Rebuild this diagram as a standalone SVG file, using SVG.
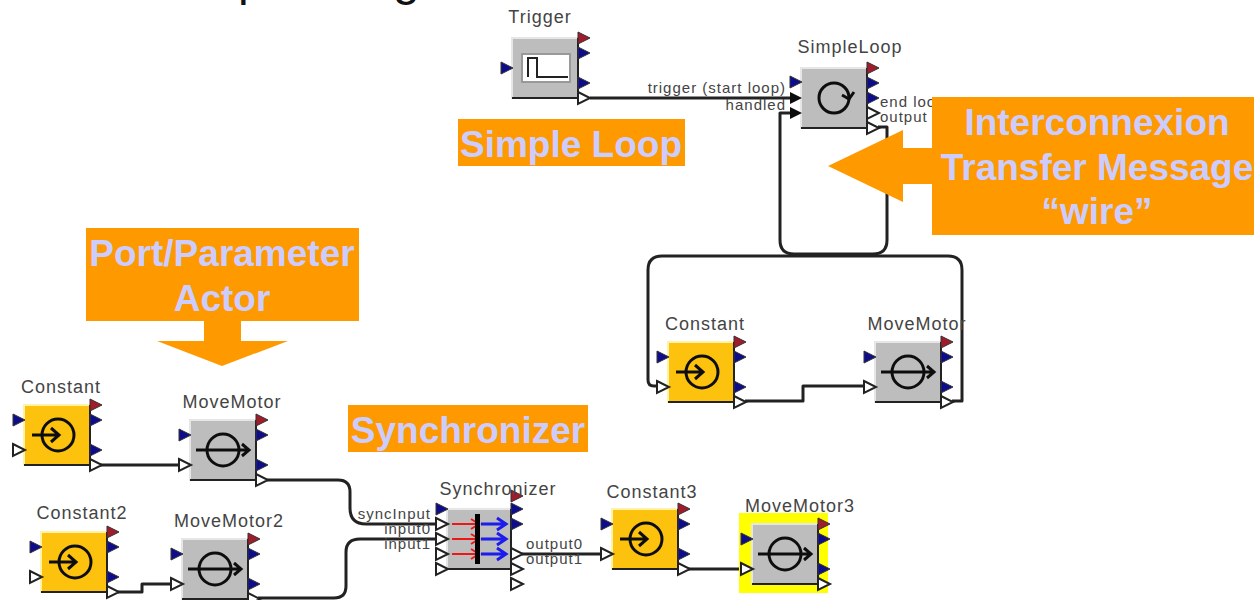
<svg xmlns="http://www.w3.org/2000/svg" width="1254" height="600" viewBox="0 0 1254 600">
<style>
text{font-family:"Liberation Sans",Arial,sans-serif}
.lbl{fill:#444;font-size:18px;letter-spacing:1px;text-anchor:middle}
.plbl{fill:#444;font-size:15px;letter-spacing:1px}
.e{text-anchor:end}
.cal{fill:#ccccff;font-size:37px;font-weight:bold;text-anchor:middle}
.or{fill:#ff9900}
.wire{fill:none;stroke:#222;stroke-width:3;stroke-linejoin:round}
.ic{fill:none;stroke:#111;stroke-width:3}
.soft{filter:url(#soft)}
</style>
<defs>
<filter id="soft" x="-5%" y="-5%" width="110%" height="110%"><feGaussianBlur stdDeviation="0.5"/></filter>
<polygon id="pr" points="0,-6 12,0 0,6" fill="#a01c2c" stroke="#333" stroke-width="1"/>
<polygon id="pb" points="0,-6 12,0 0,6" fill="#10108c" stroke="#333" stroke-width="1"/>
<polygon id="pw" points="0,-6 12,0 0,6" fill="#fff" stroke="#222" stroke-width="2"/>
<polygon id="pk" points="0,-6 12,0 0,6" fill="#111"/>
<g id="gbox"><rect x="0" y="0" width="66" height="60" fill="#bdbdbd" stroke="#e6e6e6" stroke-width="2"/><path d="M0,60H66V0" fill="none" stroke="#222" stroke-width="2"/></g>
<g id="ybox"><rect x="0" y="0" width="66" height="60" fill="#fdc208" stroke="#fff3a8" stroke-width="2"/><path d="M0,60H66V0" fill="none" stroke="#222" stroke-width="2"/></g>
<g id="iconst"><circle cx="34" cy="30" r="16" class="ic"/><path d="M8,30H34M27,23L35,30L27,37" class="ic"/></g>
<g id="imotor"><circle cx="33" cy="30" r="16" class="ic"/><path d="M6,30H58M52,24L59,30L52,36" class="ic"/></g>
<g id="portsR"><use href="#pr" x="66" y="0"/><use href="#pb" x="66" y="15"/><use href="#pb" x="66" y="45"/><use href="#pw" x="66" y="60"/></g>
<g id="portsL"><use href="#pb" x="-11" y="15"/><use href="#pw" x="-11" y="45"/></g>
</defs>

<g id="title-fragment"><text x="238" y="-5" font-size="48" fill="#111">p</text><text x="393" y="-5" font-size="48" fill="#111">g</text></g>

<g id="connectors" class="soft">
<path class="wire" d="M590,98H790"/>
<path class="wire" d="M878,127H887V240Q887,254 873,254H794Q780,254 780,240V113H790"/>
<path class="wire" d="M952,401H962V270Q962,256 948,256H662Q648,256 648,270V380Q648,386 654,386H660"/>
<path class="wire" d="M745,401H803V386H866"/>
<path class="wire" d="M100,465H180"/>
<path class="wire" d="M267,480H338Q350,480 350,492V508Q350,524 366,524H436"/>
<path class="wire" d="M258,598H334Q346,598 346,586V552Q346,539 360,539H436"/>
<path class="wire" d="M118,592H142V584H172"/>
<path class="wire" d="M522,554H600"/>
<path class="wire" d="M687,569H742"/>
</g>

<g id="trigger" transform="translate(512,38)">
<g class="soft"><use href="#gbox"/><use href="#portsR"/><use href="#pb" x="-11" y="30"/>
<rect x="10" y="16" width="48" height="28" fill="#fff" stroke="#999" stroke-width="2"/>
<path d="M16,39V20H25V39H56" fill="none" stroke="#222" stroke-width="2"/></g>
<text x="28" y="-15" class="lbl">Trigger</text>
</g>
<g id="simpleloop" transform="translate(801,68)">
<g class="soft"><use href="#gbox"/><use href="#pr" x="66" y="0"/><use href="#pb" x="66" y="15"/><use href="#pb" x="66" y="30"/><use href="#pw" x="66" y="45"/><use href="#pw" x="66" y="60"/>
<use href="#pb" x="-11" y="14"/><use href="#pk" x="-11" y="30"/><use href="#pk" x="-11" y="45"/>
<circle cx="33" cy="30" r="15" class="ic"/><path d="M41,27L48,31L53,24" class="ic"/></g>
<text x="49" y="-15" class="lbl">SimpleLoop</text>
<text x="-15" y="25" class="plbl e">trigger (start loop)</text>
<text x="-15" y="42" class="plbl e">handled</text>
<text x="79" y="39" class="plbl">end loop</text>
<text x="79" y="54" class="plbl">output</text>
</g>
<g id="constant-a" transform="translate(668,342)">
<g class="soft"><use href="#ybox"/><use href="#portsR"/><use href="#portsL"/><use href="#iconst"/></g>
<text x="37" y="-12" class="lbl">Constant</text>
</g>
<g id="movemotor-a" transform="translate(875,342)">
<g class="soft"><use href="#gbox"/><use href="#portsR"/><use href="#portsL"/><use href="#imotor"/></g>
<text x="42" y="-12" class="lbl">MoveMotor</text>
</g>
<g id="constant-b" transform="translate(24,405)">
<g class="soft"><use href="#ybox"/><use href="#portsR"/><use href="#portsL"/><use href="#iconst"/></g>
<text x="37" y="-12" class="lbl">Constant</text>
</g>
<g id="movemotor-b" transform="translate(190,420)">
<g class="soft"><use href="#gbox"/><use href="#portsR"/><use href="#portsL"/><use href="#imotor"/></g>
<text x="42" y="-12" class="lbl">MoveMotor</text>
</g>
<g id="constant2" transform="translate(41,532)">
<g class="soft"><use href="#ybox"/><use href="#portsR"/><use href="#portsL"/><use href="#iconst"/></g>
<text x="41" y="-13" class="lbl">Constant2</text>
</g>
<g id="movemotor2" transform="translate(182,539)">
<g class="soft"><use href="#gbox"/><use href="#portsR"/><use href="#portsL"/><use href="#imotor"/></g>
<text x="47" y="-12" class="lbl">MoveMotor2</text>
</g>
<g id="synchronizer" transform="translate(447,509)">
<g class="soft"><rect x="0" y="0" width="64" height="60" fill="#bdbdbd" stroke="#e6e6e6" stroke-width="2"/><path d="M0,60H64V0" fill="none" stroke="#222" stroke-width="2"/>
<path d="M5,15H31M24,10L32,15L24,20M5,30H31M24,25L32,30L24,35M5,45H31M24,40L32,45L24,50" fill="none" stroke="#f01818" stroke-width="2"/>
<path d="M34,15H58M50,9L59,15L50,21M34,30H58M50,24L59,30L50,36M34,45H58M50,39L59,45L50,51" fill="none" stroke="#1a1aee" stroke-width="3"/>
<rect x="28" y="5" width="5" height="50" fill="#000"/>
<use href="#pb" x="-11" y="0"/><use href="#pw" x="-11" y="15"/><use href="#pw" x="-11" y="30"/><use href="#pw" x="-11" y="45"/><use href="#pw" x="-11" y="60"/>
<use href="#pr" x="64" y="-13"/><use href="#pb" x="64" y="0"/><use href="#pb" x="64" y="15"/><use href="#pw" x="64" y="45"/><use href="#pw" x="64" y="60"/><use href="#pw" x="64" y="75"/></g>
<text x="51" y="-14" class="lbl">Synchronizer</text>
<text x="-16" y="10" class="plbl e">syncInput</text>
<text x="-16" y="25" class="plbl e">input0</text>
<text x="-16" y="40" class="plbl e">input1</text>
<text x="79" y="40" class="plbl">output0</text>
<text x="79" y="55" class="plbl">output1</text>
</g>
<g id="constant3" transform="translate(612,509)">
<g class="soft"><use href="#ybox"/><use href="#portsR"/><use href="#portsL"/><use href="#iconst"/></g>
<text x="40" y="-11" class="lbl">Constant3</text>
</g>
<g id="movemotor3" transform="translate(752,524)">
<g class="soft"><rect x="-13" y="-11" width="89" height="80" fill="#ffff00"/>
<use href="#gbox"/><use href="#portsR"/><use href="#portsL"/><use href="#imotor"/></g>
<text x="48" y="-12" class="lbl">MoveMotor3</text>
</g>

<g id="callout-simple-loop"><rect class="or" x="458" y="119" width="227" height="47"/><text class="cal" x="571" y="157">Simple Loop</text></g>
<g id="callout-port"><path class="or" d="M86,228H359V321H241V341H288L222,366L157,341H204V321H86Z"/><text class="cal" x="222" y="266">Port/Parameter</text><text class="cal" x="222" y="311">Actor</text></g>
<g id="callout-sync"><rect class="or" x="348" y="405" width="240" height="47"/><text class="cal" x="468" y="443">Synchronizer</text></g>
<g id="callout-wire"><path class="or" d="M932,97H1254V235H932V184H903V202L828,166L903,130V148H932Z"/><text class="cal" x="1097" y="135">Interconnexion</text><text class="cal" x="1097" y="180">Transfer Message</text><text class="cal" x="1097" y="224">“wire”</text></g>
</svg>
